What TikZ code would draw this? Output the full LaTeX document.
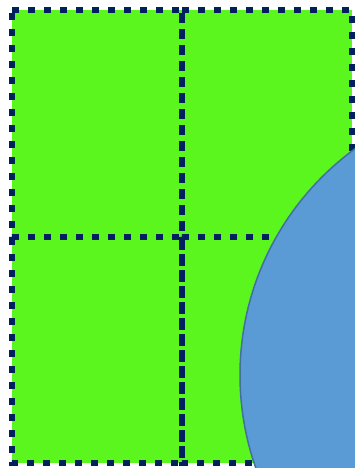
\documentclass[tikz,border=0pt]{standalone}
\usepackage{tikz}
\definecolor{mygreen}{RGB}{90,246,30}
\definecolor{mynavy}{RGB}{0,32,96}
\definecolor{mycircle}{RGB}{91,155,213}
\definecolor{mycircleedge}{RGB}{65,113,156}

\begin{document}
\begin{tikzpicture}[x=1pt,y=-1pt,
  cell/.style={draw=mynavy,line width=6.5pt,dash pattern=on 7pt off 9pt}]
  \useasboundingbox (0,0) rectangle (355,468);
  \clip (0,0) rectangle (355,468);
  \fill[mygreen] (12,10) rectangle (352,463);
  \foreach \xa/\ya/\xb/\yb in {12/10/182/237,182/10/352/237,12/237/182/463,182/237/352/463} {
    \draw[cell] (\xa,\ya) -- (\xb,\ya) -- (\xb,\yb) -- (\xa,\yb) -- cycle;}
  \draw[fill=mycircle,draw=mycircleedge,line width=1.5pt] (520,375) circle (280);
\end{tikzpicture}
\end{document}
